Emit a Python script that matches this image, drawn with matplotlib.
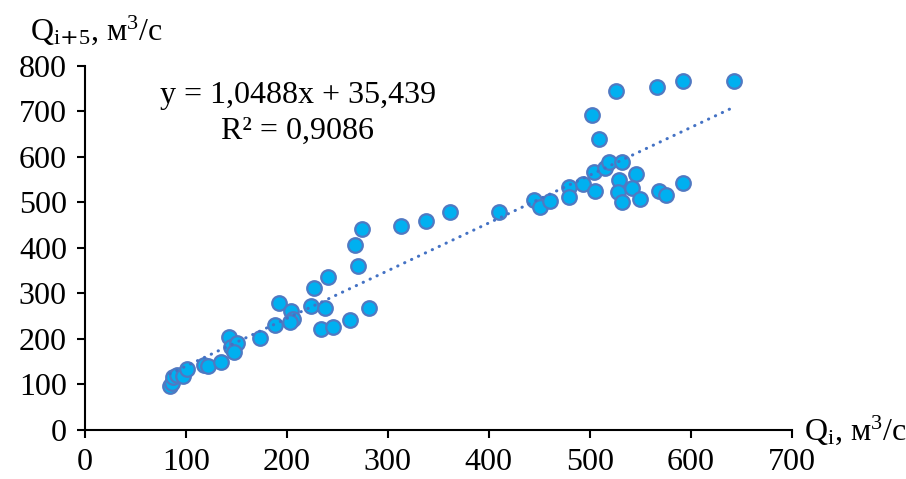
import matplotlib
matplotlib.use("Agg")
import matplotlib.pyplot as plt
import numpy as np

plt.rcParams['font.family'] = ['Liberation Serif', 'DejaVu Serif']
plt.rcParams['mathtext.default'] = 'regular'

q_i = [84, 86, 87, 91, 97, 101, 118, 122, 135, 143, 145, 151, 148, 173, 188,
       192, 204, 206, 203, 224, 227, 238, 241, 234, 246, 263, 267, 270, 274, 281,
       313, 338, 362, 410, 445, 451, 461, 479, 479, 493, 505, 504, 515, 519, 532,
       529, 528, 532, 546, 542, 550, 569, 576, 592, 502, 509, 526, 567, 592, 643]
q_i5 = [97, 104, 116, 121, 119, 135, 143, 141, 150, 204, 183, 192, 172, 202, 231,
        278, 262, 243, 238, 272, 311, 267, 337, 223, 226, 241, 407, 360, 442, 267,
        448, 460, 478, 478, 505, 489, 504, 533, 513, 540, 525, 566, 575, 590, 589,
        549, 522, 501, 563, 531, 507, 525, 517, 542, 692, 639, 744, 753, 768, 768]

slope = 1.0488
intercept = 35.439
r2 = 0.9086

fig = plt.figure(figsize=(9.06, 4.79), dpi=100)
ax = fig.add_axes([0.0938, 0.1023, 0.780, 0.760])

xs = np.array([min(q_i), max(q_i)])
ax.plot(xs, slope * xs + intercept, color='#4472C4', lw=2.2,
        linestyle=(0, (0.1, 2.4)), dash_capstyle='round', zorder=3)
ax.scatter(q_i, q_i5, s=110, color='#00B0F0', edgecolors='#5079C2',
           linewidths=1.6, zorder=2)

ax.set_xlim(0, 700)
ax.set_ylim(0, 800)
ax.set_xticks(range(0, 701, 100))
ax.set_yticks(range(0, 801, 100))
ax.spines['top'].set_visible(False)
ax.spines['right'].set_visible(False)
for s in ('left', 'bottom'):
    ax.spines[s].set_linewidth(1.5)
ax.tick_params(axis='both', direction='out', length=6, width=1.5,
               labelsize=23, pad=7)

ax.text(0.016, 1.099, r'Q$_{i\text{+}5}$, м$^{3}$/с', transform=ax.transAxes,
        fontsize=23, ha='center', va='center')
ax.text(1.017, 0.0, 'Q$_{i}$, м$^{3}$/с', transform=ax.transAxes,
        fontsize=23, ha='left', va='center')

ax.text(211, 736, 'y = 1,0488x + 35,439', fontsize=23, ha='center', va='center')
ax.text(211, 657, 'R² = 0,9086', fontsize=23, ha='center', va='center')

fig.savefig('out.png', dpi=100)
